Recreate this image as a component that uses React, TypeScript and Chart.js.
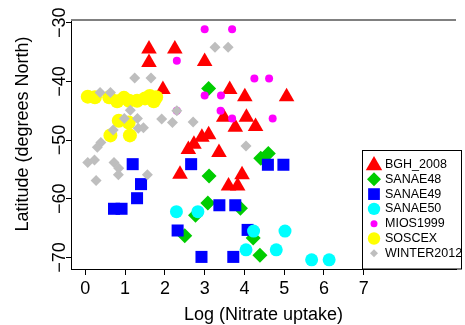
import React, { useEffect, useRef } from 'react';
import { Chart, registerables } from 'chart.js';
import { drawPoint } from 'chart.js/helpers';

Chart.register(...registerables);

const X_TICKS = [0, 1, 2, 3, 4, 5, 6, 7];
const Y_TICKS = [-70, -60, -50, -40, -30];
const X_TITLE = 'Log (Nitrate uptake)';
const Y_TITLE = 'Latitude (degrees North)';

const SERIES_NAMES = ['BGH_2008', 'SANAE48', 'SANAE49', 'SANAE50', 'MIOS1999', 'SOSCEX', 'WINTER2012'];

const BGH_2008: number[][] = [
  [1.6, -34.5], [1.6, -36.8], [2.25, -34.5], [3.0, -36.6], [1.95, -41.4], [3.63, -41.4],
  [4.01, -42.6], [5.06, -42.6], [3.48, -46.1], [4.05, -46.1], [3.77, -47.8], [4.28, -47.7],
  [3.1, -49.1], [2.93, -49.5], [2.73, -50.7], [2.59, -51.6], [3.36, -52.1], [2.38, -55.8],
  [3.94, -55.9], [3.6, -57.8], [3.83, -57.8],
];
const SANAE48: number[][] = [
  [3.1, -41.2], [4.41, -53.1], [4.6, -52.3], [3.11, -56.1], [3.08, -60.7], [3.9, -61.6],
  [2.77, -62.8], [2.5, -66.3], [4.22, -66.7], [4.39, -69.6],
];
const SANAE49: number[][] = [
  [1.19, -54.1], [2.66, -54.1], [4.59, -54.2], [4.98, -54.2], [1.4, -57.5], [1.3, -59.9],
  [0.72, -61.7], [0.91, -61.7], [3.37, -61.1], [3.77, -61.1], [2.32, -65.4], [4.08, -65.3],
  [2.92, -69.9], [3.72, -69.9],
];
const SANAE50: number[][] = [
  [2.29, -62.2], [2.83, -62.2], [4.23, -65.5], [5.02, -65.5], [4.04, -68.7], [4.8, -68.7],
  [5.69, -70.4], [6.13, -70.4],
];
const MIOS1999: number[][] = [
  [3.0, -31.1], [3.69, -31.1], [2.3, -36.5], [4.25, -39.5], [4.62, -39.5], [3.0, -42.4],
  [3.41, -42.4], [3.4, -45.0], [2.3, -45.0], [3.69, -46.3], [4.71, -46.3],
];
const SOSCEX: number[][] = [
  [0.06, -42.6], [0.24, -42.7], [0.6, -42.7], [0.8, -43.4], [0.97, -42.8], [1.1, -43.3],
  [1.3, -43.3], [1.5, -42.9], [1.62, -42.5], [1.78, -42.7], [1.72, -43.4], [0.84, -46.7],
  [1.09, -47.0], [0.63, -49.2], [1.12, -49.2],
];
const WINTER2012: number[][] = [
  [3.26, -34.2], [3.59, -34.2], [1.24, -39.4], [1.65, -39.4], [0.37, -41.9], [0.63, -41.9],
  [1.13, -44.9], [2.3, -45.0], [0.98, -46.3], [1.31, -46.3], [1.92, -46.4], [2.19, -47.0],
  [2.71, -46.9], [1.33, -48.0], [1.46, -47.9], [0.7, -48.3], [0.39, -50.4], [0.3, -51.2],
  [0.06, -53.8], [0.23, -53.4], [0.72, -53.8], [0.84, -54.8], [0.83, -55.9], [0.27, -56.9],
  [1.56, -55.9], [4.04, -51.0],
];

const SERIES_DATA = [BGH_2008, SANAE48, SANAE49, SANAE50, MIOS1999, SOSCEX, WINTER2012];
const SERIES_COLORS = ['#FF0000', '#00CD00', '#0000FF', '#00FFFF', '#FF00FF', '#FFFF00', '#BEBEBE'];
const SERIES_STYLES = ['triangle', 'rectRot', 'rect', 'circle', 'circle', 'circle', 'rectRot'];
const SERIES_RADII = [9, 7.5, 8.5, 6.5, 4, 7, 5.5];
const LEGEND_RADII = [9.5, 7, 8.3, 6.2, 3.5, 6.2, 4];

const FONT = '"Liberation Sans", Arial, Helvetica, sans-serif';

const fmt = (v: number) => (v < 0 ? '\u2212' + Math.abs(v) : String(v));

const overlay = {
  id: 'overlay',
  afterDraw(chart: any) {
    const { ctx, chartArea, scales } = chart;
    const ys = scales.y;
    ctx.save();
    // top frame line
    ctx.strokeStyle = '#808080';
    ctx.lineWidth = 2;
    ctx.beginPath();
    ctx.moveTo(chartArea.left, chartArea.top);
    ctx.lineTo(chartArea.right, chartArea.top);
    ctx.stroke();

    // y tick labels (rotated, R style)
    ctx.fillStyle = '#000';
    ctx.font = `18px ${FONT}`;
    ctx.textAlign = 'center';
    ctx.textBaseline = 'alphabetic';
    Y_TICKS.forEach((v) => {
      const py = ys.getPixelForValue(v);
      ctx.save();
      ctx.translate(chartArea.left - 6, py);
      ctx.rotate(-Math.PI / 2);
      ctx.fillText(fmt(v), 0, 0);
      ctx.restore();
    });

    // y title
    ctx.save();
    ctx.translate(28, 134);
    ctx.rotate(-Math.PI / 2);
    ctx.fillText(Y_TITLE, 0, 0);
    ctx.restore();

    // x title
    ctx.fillText(X_TITLE, (chartArea.left + chartArea.right) / 2, 320);

    // legend
    const bx = 362.5, by = 150.5, bw = 99, bh = chartArea.bottom - 150.5;
    ctx.fillStyle = '#fff';
    ctx.fillRect(bx, by, bw, bh);
    ctx.strokeStyle = '#000';
    ctx.lineWidth = 1;
    ctx.strokeRect(bx, by, bw, bh);
    ctx.font = `12.5px ${FONT}`;
    ctx.textAlign = 'left';
    ctx.textBaseline = 'middle';
    SERIES_NAMES.forEach((name, i) => {
      const ry = 164.5 + i * 14.8;
      ctx.fillStyle = SERIES_COLORS[i];
      drawPoint(ctx, { pointStyle: SERIES_STYLES[i] as any, radius: LEGEND_RADII[i], rotation: 0, borderWidth: 0 } as any, 374, ry + (i === 0 ? 1 : 0));
      ctx.fillStyle = '#000';
      ctx.fillText(name, 385, ry);
    });
    ctx.restore();
  },
};

export default function App() {
  const ref = useRef<HTMLCanvasElement | null>(null);
  useEffect(() => {
    if (!ref.current) return;
    const datasets = SERIES_NAMES.map((name, i) => ({
      label: name,
      data: SERIES_DATA[i].map(([x, y]) => ({ x, y })),
      pointStyle: SERIES_STYLES[i],
      pointRadius: SERIES_RADII[i],
      pointBackgroundColor: SERIES_COLORS[i],
      pointBorderWidth: 0,
      backgroundColor: SERIES_COLORS[i],
      borderColor: SERIES_COLORS[i],
      showLine: false,
      order: SERIES_NAMES.length - i,
    }));
    const chart = new Chart(ref.current, {
      type: 'scatter',
      data: { datasets },
      options: {
        animation: false,
        responsive: false,
        layout: { padding: { top: 20, left: 0, right: 0, bottom: 0 } },
        plugins: { legend: { display: false }, tooltip: { enabled: false } },
        scales: {
          x: {
            type: 'linear',
            position: 'bottom',
            min: -0.361,
            max: 9.32,
            afterBuildTicks: (s: any) => { s.ticks = X_TICKS.map((v) => ({ value: v })); },
            afterFit: (s: any) => { s.height = 56; },
            grid: { display: true, drawOnChartArea: false, drawTicks: true, tickLength: 6, color: '#000', lineWidth: 1 },
            border: { display: true, color: '#000', width: 1 },
            ticks: { color: '#000', font: { family: FONT, size: 18 }, padding: 3, maxRotation: 0, autoSkip: false, callback: (v: any) => fmt(Number(v)) },
          },
          y: {
            type: 'linear',
            position: 'left',
            min: -71.96,
            max: -29.54,
            afterBuildTicks: (s: any) => { s.ticks = Y_TICKS.map((v) => ({ value: v })); },
            afterFit: (s: any) => { s.width = 71; },
            grid: { display: true, drawOnChartArea: false, drawTicks: true, tickLength: 5, color: '#000', lineWidth: 1 },
            border: { display: true, color: '#000', width: 1 },
            ticks: { display: false },
          },
        },
      },
      plugins: [overlay],
    });
    return () => chart.destroy();
  }, []);
  return (
    <div style={{ position: 'fixed', left: 0, top: 0, width: 465, height: 325, background: '#fff' }}>
      <canvas ref={ref} width={465} height={325} style={{ display: 'block' }} />
    </div>
  );
}
